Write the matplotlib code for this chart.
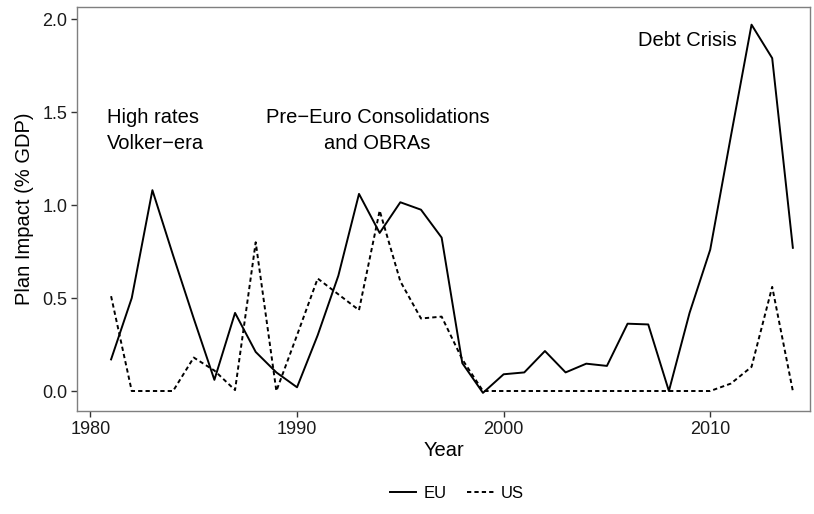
import matplotlib
matplotlib.use("Agg")
import matplotlib.pyplot as plt
import numpy as np

# --- data ---
years = list(range(1981, 2015))
eu = [0.17, 0.50, 1.08, 0.73, 0.39, 0.06, 0.42, 0.21, 0.10, 0.02,
      0.30, 0.62, 1.06, 0.85, 1.015, 0.975, 0.825, 0.15, -0.01, 0.09,
      0.10, 0.215, 0.10, 0.147, 0.135, 0.362, 0.358, 0.0, 0.42, 0.76,
      1.37, 1.97, 1.79, 0.77]
us = [0.51, 0.0, 0.0, 0.0, 0.18, 0.11, 0.005, 0.80, 0.0, 0.30,
      0.605, 0.52, 0.435, 0.97, 0.59, 0.39, 0.40, 0.17, 0.0, 0.0,
      0.0, 0.0, 0.0, 0.0, 0.0, 0.0, 0.0, 0.0, 0.0, 0.0,
      0.04, 0.13, 0.56, 0.0]

notes = [("High rates\nVolker\u2212era", 1980.78, 1.40, "left"),
         ("Pre\u2212Euro Consolidations\nand OBRAs", 1993.9, 1.40, "center"),
         ("Debt Crisis", 2008.9, 1.885, "center")]

plt.rcParams["font.family"] = ["Liberation Sans", "DejaVu Sans"]

W, H = 814, 514
fig = plt.figure(figsize=(W / 100, H / 100), dpi=100)
ax = fig.add_axes([77 / W, 1 - 411 / H, (810 - 77) / W, (411 - 7) / H])

ax.plot(years, eu, color="black", lw=1.4, label="EU")
ax.plot(years, us, color="black", lw=1.4, linestyle=(0, (2.2, 1.6)), label="US")

for txt, x, y, ha in notes:
    ax.text(x, y, txt, ha=ha, va="center", fontsize=14.5, linespacing=1.5,
            multialignment=ha)

ax.set_xlim(1979.35, 2014.83)
ax.set_ylim(-0.1075, 2.065)
ax.set_xticks([1980, 1990, 2000, 2010])
ax.set_yticks([0.0, 0.5, 1.0, 1.5, 2.0])
ax.set_yticklabels(["0.0", "0.5", "1.0", "1.5", "2.0"])
ax.tick_params(length=4, width=1, color="#333333", labelsize=13,
               labelcolor="#1a1a1a", pad=3)
for s in ax.spines.values():
    s.set_color("#7f7f7f")
    s.set_linewidth(1)

ax.set_xlabel("Year", fontsize=14.5, labelpad=2)
ax.set_ylabel("Plan Impact (% GDP)", fontsize=14.5, labelpad=6)

fig.legend(loc="center", bbox_to_anchor=(457 / W, 1 - 493 / H), ncol=2,
           frameon=False, fontsize=12, handlelength=1.6, handletextpad=0.45,
           columnspacing=1.2)

fig.savefig("out.png", dpi=100)
